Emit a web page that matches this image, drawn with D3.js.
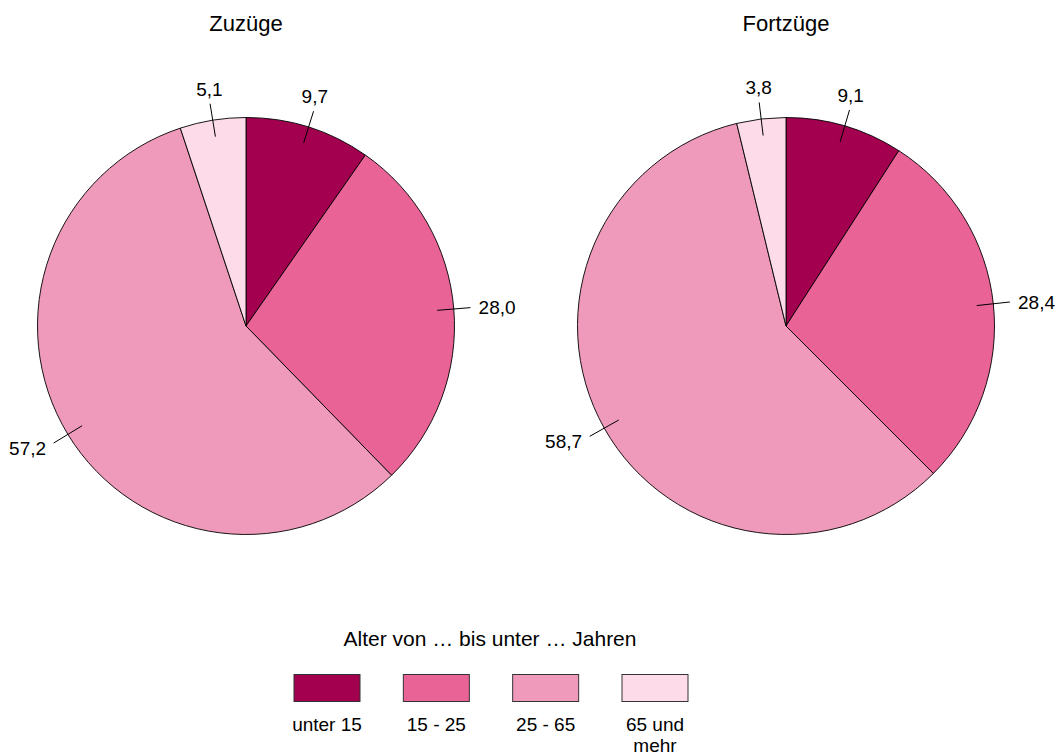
<!DOCTYPE html>
<html><head><meta charset="utf-8">
<script src="https://cdn.jsdelivr.net/npm/d3@7"></script>
<style>body{margin:0;background:#fff}svg{display:block}text{font-family:"Liberation Sans",Arial,sans-serif;fill:#000}</style>
</head><body>
<script>
const categories = ["unter 15", "15 - 25", "25 - 65", "65 und mehr"];
const colors = ["#a3004f", "#e96396", "#f09abb", "#fddbe9"];
const zuzuege = [9.7, 28.0, 57.2, 5.1];
const fortzuege = [9.1, 28.4, 58.7, 3.8];
const titles = ["Zuzüge", "Fortzüge"];
const legendTitle = "Alter von … bis unter … Jahren";

const W = 1058, H = 756;
const svg = d3.select("body").append("svg").attr("width", W).attr("height", H);

const R = 208.5;
const centers = [[246, 326], [786, 326]];
const datasets = [zuzuege, fortzuege];
const pie = d3.pie().sort(null).value(d => d);
const arc = d3.arc().innerRadius(0).outerRadius(R);
const fmt = v => d3.format(".1f")(v).replace(".", ",");
const LF = 19;

datasets.forEach((data, i) => {
  const g = svg.append("g").attr("transform", `translate(${centers[i][0]},${centers[i][1]})`);
  g.append("text").attr("x", 0).attr("y", -295).attr("text-anchor", "middle")
    .attr("font-size", 22).text(titles[i]);
  const arcs = pie(data);
  g.selectAll("path").data(arcs).join("path")
    .attr("d", arc).attr("fill", (d, j) => colors[j])
    .attr("stroke", "#000").attr("stroke-width", 0.9);
  arcs.forEach(d => {
    const a = (d.startAngle + d.endAngle) / 2;
    const sx = Math.sin(a), sy = -Math.cos(a);
    g.append("line")
      .attr("x1", sx * R * 0.92).attr("y1", sy * R * 0.92)
      .attr("x2", sx * R * 1.08).attr("y2", sy * R * 1.08)
      .attr("stroke", "#000").attr("stroke-width", 1);
    const t = g.append("text").attr("font-size", LF);
    let tx = sx * R * 1.1, ty = sy * R * 1.1;
    if (sx > 0.5) { t.attr("text-anchor", "start"); ty += 7; tx += 4; }
    else if (sx < -0.5) { t.attr("text-anchor", "end"); ty += 10; tx -= 4; }
    else { t.attr("text-anchor", "middle"); ty += sy < 0 ? -4 : 18; }
    t.attr("x", tx).attr("y", ty).text(fmt(d.data));
  });
});

// legend
const lg = svg.append("g");
lg.append("text").attr("x", 490).attr("y", 646).attr("text-anchor", "middle")
  .attr("font-size", 21).text(legendTitle);
const lx = d3.scalePoint().domain(categories).range([327, 655]);
categories.forEach((c, j) => {
  const cx = lx(c);
  lg.append("rect").attr("x", cx - 33).attr("y", 674.5).attr("width", 66).attr("height", 27)
    .attr("fill", colors[j]).attr("stroke", "#333").attr("stroke-width", 1);
  const words = c === "65 und mehr" ? ["65 und", "mehr"] : [c];
  words.forEach((w, k) => {
    lg.append("text").attr("x", cx).attr("y", 731 + k * 21).attr("text-anchor", "middle")
      .attr("font-size", 19).text(w);
  });
});
</script>
</body></html>
